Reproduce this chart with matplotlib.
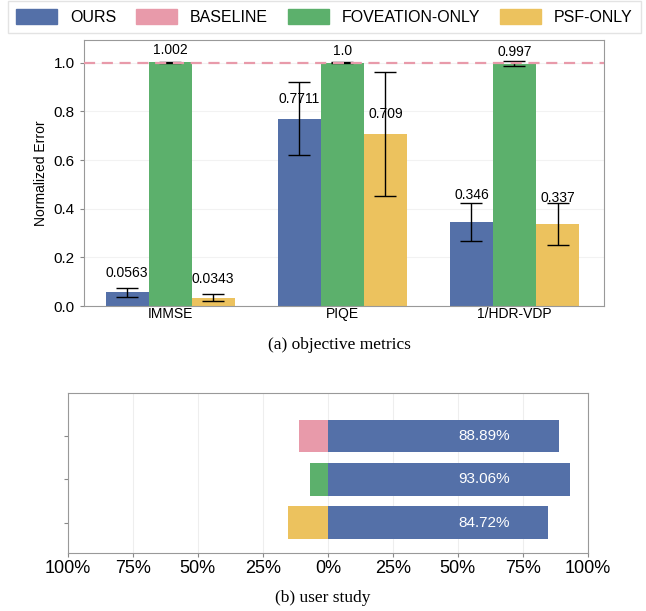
import numpy as np
import matplotlib.pyplot as plt
from matplotlib.patches import Patch

plt.rcParams['font.family'] = ['Liberation Sans', 'DejaVu Sans']

# Data
metrics = ["IMMSE", "PIQE", "1/HDR-VDP"]
ours = [0.0563, 0.7711, 0.346]
ours_err = [0.02, 0.152, 0.077]
fov = [1.002, 1.0, 0.997]
fov_err = [0.002, 0.002, 0.01]
psf = [0.0343, 0.709, 0.337]
psf_err = [0.015, 0.255, 0.085]
baseline = 1.0
ours_lbl = ["0.0563", "0.7711", "0.346"]
fov_lbl = ["1.002", "1.0", "0.997"]
psf_lbl = ["0.0343", "0.709", "0.337"]
ours_lbl_off = [0.05, 0.05, 0.08]
fov_lbl_off = [0.02, 0.02, 0.02]
psf_lbl_off = [0.05, 0.05, 0.08]

# user study: share preferring ours vs. the other method
study_ours = [0.8472, 0.9306, 0.8889]   # vs PSF-ONLY, FOVEATION-ONLY, BASELINE
study_other = [0.1528, 0.0694, 0.1111]
study_lbl = ["84.72%", "93.06%", "88.89%"]

c_ours = "#5470a8"
c_base = "#e89aaa"
c_fov = "#5cb06c"
c_psf = "#ecc25e"
study_colors = [c_psf, c_fov, c_base]

fig = plt.figure(figsize=(6.46, 6.11), dpi=100)

# (a) objective metrics
ax1 = fig.add_axes([0.130, 0.499, 0.805, 0.436])
x = np.arange(len(metrics))
w = 0.25
ekw = dict(ecolor="black", capsize=8, elinewidth=1.0, capthick=1.0)
ax1.bar(x - w, ours, w, yerr=ours_err, color=c_ours, error_kw=ekw, zorder=2)
ax1.bar(x, fov, w, yerr=fov_err, color=c_fov, error_kw=ekw, zorder=2)
ax1.bar(x + w, psf, w, yerr=psf_err, color=c_psf, error_kw=ekw, zorder=2)
ax1.axhline(baseline, color=c_base, ls=(0, (5, 3)), lw=1.6, zorder=3)

for i in range(len(metrics)):
    ax1.text(x[i] - w, ours[i] + ours_lbl_off[i], ours_lbl[i], ha="center", va="bottom", fontsize=10)
    ax1.text(x[i], fov[i] + fov_lbl_off[i], fov_lbl[i], ha="center", va="bottom", fontsize=10)
    ax1.text(x[i] + w, psf[i] + psf_lbl_off[i], psf_lbl[i], ha="center", va="bottom", fontsize=10)

ax1.set_xlim(-0.5, 2.52)
ax1.set_ylim(0, 1.095)
ax1.set_xticks(x)
ax1.set_xticklabels(metrics, fontsize=10)
ax1.set_yticks([0.0, 0.2, 0.4, 0.6, 0.8, 1.0])
ax1.tick_params(axis="y", labelsize=11, length=3, color="#888888")
ax1.tick_params(axis="x", length=0, pad=1)
ax1.set_ylabel("Normalized Error", fontsize=10)
ax1.yaxis.grid(True, color="#f2f2f2", lw=0.8, zorder=0)
for s in ax1.spines.values():
    s.set_color("#999999")

handles = [Patch(color=c_ours, label="OURS"), Patch(color=c_base, label="BASELINE"),
           Patch(color=c_fov, label="FOVEATION-ONLY"), Patch(color=c_psf, label="PSF-ONLY")]
leg = fig.legend(handles=handles, loc="lower left", bbox_to_anchor=(0.012, 0.946, 0.98, 0.05),
                 mode="expand", ncol=4, fontsize=11.5, handlelength=2.6, handleheight=1.0,
                 frameon=True, fancybox=False, borderaxespad=0, columnspacing=1.0,
                 borderpad=0.5)
leg.get_frame().set_edgecolor("#dddddd")

fig.text(0.525, 0.435, "(a) objective metrics", ha="center", va="center",
         fontsize=12.5, family="Liberation Serif")

# (b) user study
ax2 = fig.add_axes([0.105, 0.095, 0.805, 0.262])
rows = np.arange(len(study_ours))
ax2.barh(rows, study_ours, height=0.75, color=c_ours, zorder=2)
ax2.barh(rows, [-v for v in study_other], height=0.75, color=study_colors, zorder=2)
for r in rows:
    ax2.text(0.6, r, study_lbl[r], color="white", ha="center", va="center", fontsize=11)
ax2.set_xlim(-1, 1)
ax2.set_ylim(-0.7, 3.0)
ticks = [-1, -0.75, -0.5, -0.25, 0, 0.25, 0.5, 0.75, 1]
ax2.set_xticks(ticks)
ax2.set_xticklabels([f"{abs(int(t * 100))}%" for t in ticks], fontsize=13)
ax2.set_yticks(rows)
ax2.set_yticklabels([])
ax2.tick_params(axis="y", length=3, color="#888888")
ax2.tick_params(axis="x", length=3, color="#888888", pad=2)
ax2.xaxis.grid(True, color="#eeeeee", lw=0.8, zorder=0)
for s in ax2.spines.values():
    s.set_color("#999999")

fig.text(0.5, 0.021, "(b) user study", ha="center", va="center",
         fontsize=12.5, family="Liberation Serif")

fig.savefig("out.png", dpi=100)
